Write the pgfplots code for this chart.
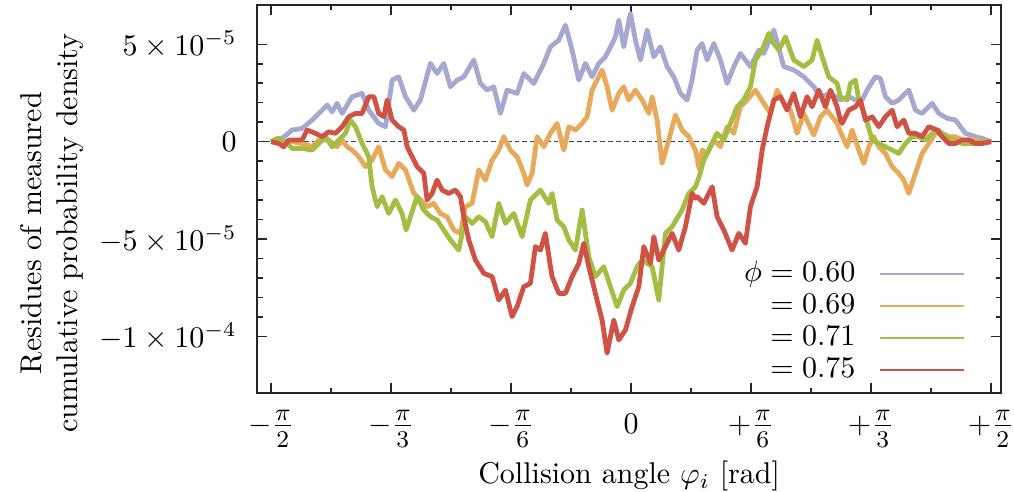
\documentclass[border=0pt]{standalone}
\usepackage{pgfplots}
\pgfplotsset{compat=1.18}
\usetikzlibrary{calc}
\definecolor{cblue}{HTML}{A5A8D0}
\definecolor{corange}{HTML}{E8A95A}
\definecolor{cgreen}{HTML}{A4BD43}
\definecolor{cred}{HTML}{CF5245}
\newcommand{\pifrac}[2]{#1\frac{\mbox{\footnotesize$\pi$}\rule[-1.2pt]{0pt}{1pt}}{\rule{0pt}{6.5pt}\mbox{\footnotesize$#2$}}}
\begin{document}
\begin{tikzpicture}
\begin{axis}[name=ax,
  scale only axis, width=248pt, height=129.3pt,
  xmin=-93.5, xmax=92.5, ymin=-12.89, ymax=7.01,
  xtick={-90,-60,-30,0,30,60,90},
  xticklabels={$\pifrac{-}{2}$,$\pifrac{-}{3}$,$\pifrac{-}{6}$,$0$,$\pifrac{+}{6}$,$\pifrac{+}{3}$,$\pifrac{+}{2}$},
  xticklabel style={text height=8pt, text depth=5pt, yshift=-1.9pt},
  minor xtick={-75,-45,-15,15,45,75},
  ytick={-10,-5,0,5},
  yticklabels={$-1\times10^{-4}$,$-5\times10^{-5}$,$0$,$5\times10^{-5}$},
  minor y tick num=4,
  tick align=inside,
  major tick length=3.3pt, minor tick length=1.8pt,
  axis line style={black!85, line width=0.5pt},
  every tick/.style={black!85, line width=0.5pt},
  yticklabel style={xshift=-3.3pt},
  xlabel={Collision angle $\varphi_i$ [rad]},
  xlabel style={yshift=2.5pt},
  ylabel={Residues of measured\\cumulative probability density},
  ylabel style={align=center, at={(axis description cs:-0.2755,0.412)}, anchor=center},
  legend plot pos=right,
  legend cell align=right,
  legend image code/.code={\draw[#1, line width=0.7pt] (0pt,0pt) -- (28.3pt,0pt);},
  legend style={draw=none, fill=none, inner sep=0pt, column sep=7.7pt, row sep=1.7pt,
    nodes={inner sep=0pt, text height=7pt, text depth=2pt},
    at={(rel axis cs:0.953,0.022)}, anchor=south east},
  every axis plot/.append style={line width=1.6pt, line join=round},
]
\addplot[black!75, densely dotted, line width=0.4pt, forget plot] coordinates {(-93.5,0) (92.5,0)};
% phi = 0.60
\addplot[cblue] coordinates {
(-90,0) (-87.25,0.17) (-84.75,0.60) (-82.25,0.68) (-79.75,1.11) (-77.25,1.62) (-76.0,1.88) (-74.75,1.54) (-73.5,1.97) (-72.25,1.45) (-69.75,2.31) (-67.25,2.48) (-65.6,1.62) (-63.1,0.94) (-61.4,0.77) (-59.75,3.16) (-58.1,3.33) (-56.4,2.31)
(-54.33,1.62) (-52.67,2.14) (-50.17,4.02) (-48.5,3.50) (-46.83,4.02) (-45.17,2.82) (-43.5,3.16) (-41.83,3.33) (-39.33,4.19) (-37.67,2.99) (-36,2.65) (-34.33,2.82) (-32.67,1.45) (-31,2.65) (-28.5,2.48) (-26.83,3.50) (-24.33,2.99) (-21.83,4.02) (-20.17,4.87)
(-18.08,5.21) (-16.42,5.98) (-14.75,4.70) (-13.08,3.16) (-11.42,4.02) (-9.75,3.33) (-8.08,4.02) (-6.42,4.36) (-3.92,5.38) (-3.08,6.24) (-1.83,4.87) (-0.17,6.58) (1.08,5.21) (2.33,4.19) (4.0,5.73) (5.67,4.36) (7.33,4.87) (9.0,3.85) (10.67,3.33) (12.33,2.48) (14.0,2.14) (15.25,3.16) (16.5,4.70)
(17.75,5.04) (19,4.19) (20.67,5.04) (22.33,4.19) (24,2.99) (25.67,3.85) (27.33,4.53) (29.83,3.85) (31.92,4.70) (33.17,4.53) (35.67,5.73) (38.17,3.85) (40.67,3.68) (43.17,3.33) (45.67,2.82) (47.33,2.31) (49.83,2.48) (52.33,2.14)
(54.42,2.31) (56.08,2.14) (57.75,2.14) (59,2.65) (61.08,3.33) (62.33,3.25) (63.58,2.31) (65.25,1.97) (66.92,2.14) (69.42,2.65) (71.08,1.62) (72.75,1.45) (75.25,1.97) (76.92,1.45) (79.0,1.20) (81.08,1.11) (83.58,0.43) (86.08,0.26) (87.75,0.17) (90,0)
};
\addlegendentry{$\phi = 0.60$}
% phi = 0.69
\addplot[corange] coordinates {
(-90,0) (-88.5,0.17) (-87.25,0) (-84.75,0) (-82.25,-0.09) (-79.75,-0.26) (-78.1,0.09) (-75.6,0.09) (-73.5,-0.26) (-72.25,0.09) (-71.0,-0.26) (-69.75,-0.43) (-68.1,-0.77) (-66.4,-1.28) (-64.75,-0.94) (-63.1,-0.26) (-61.4,-1.45) (-59.75,-1.79) (-58.1,-1.11) (-56.4,-1.45)
(-54.33,-2.65) (-52.67,-2.99) (-51,-3.33) (-49.33,-3.16) (-47.67,-3.68) (-46,-3.85) (-44.33,-4.53) (-42.67,-4.70) (-41.42,-3.33) (-39.75,-3.16) (-38.08,-1.45) (-36.42,-1.97) (-34.75,-0.94) (-33.08,-0.43) (-31.83,0.26) (-30.17,-0.43) (-28.5,-0.77) (-26.83,-1.62) (-26,-2.22) (-24.75,-1.62) (-23.5,0.26) (-21.83,-0.26) (-20.17,0.43)
(-18.5,0.94) (-16.83,-0.43) (-15.58,0.77) (-13.92,0.60) (-12.25,0.94) (-11.0,1.28) (-9.75,2.65) (-7.25,3.68) (-6.0,2.82) (-4.75,1.62) (-3.08,2.48) (-1.83,2.82) (-0.58,2.14) (1.08,2.65) (2.75,2.14) (4.42,1.45) (5.25,2.31) (6.5,1.11) (7.75,-1.11) (9.42,0.09) (11.08,1.37) (12.75,0.60) (14.42,0.26) (16.08,-0.43) (17.0,-1.4)
(17.75,-0.43) (19,-0.60) (20.67,0.09) (22.33,-0.26) (24,0.77) (25.67,0.43) (27.33,1.79) (29,2.14) (31.08,2.65) (33.17,1.97) (34.83,1.45) (36.5,2.65) (38.17,1.97) (39.83,1.62) (41.5,0.43) (43.17,1.45) (45.67,0.34) (47.33,1.28) (49,1.62) (51.5,0.94) (52.33,0.5)
(54,-0.26) (55.25,0.60) (56.92,-0.43) (58.17,-1.11) (59.42,-0.26) (60.67,0.26) (61.92,-0.26) (63.58,-0.60) (65.25,-1.28) (66.92,-1.62) (68.17,-1.97) (69.42,-2.65) (71.08,-1.62) (72.75,-0.60) (74.42,-0.09) (76.08,0.43) (77.75,0.43) (79.42,0.26) (81.08,0.26) (82.75,0.09) (84.42,0.09) (86.08,0.09) (87.75,0) (90,0)
};
\addlegendentry{$= 0.69$}
% phi = 0.71
\addplot[cgreen] coordinates {
(-90,0) (-88.1,0.17) (-86.4,0) (-84.75,-0.34) (-82.25,-0.34) (-79.75,-0.43) (-78.1,-0.09) (-76.4,0.26) (-74.75,-0.26) (-73.1,0.09) (-71.4,0.43) (-70.2,1.11) (-68.9,0.77) (-67.25,-0.09) (-65.6,-0.77) (-64.75,-2.31) (-63.5,-3.33) (-62.25,-2.82) (-60.6,-3.68) (-58.9,-2.99) (-57.25,-3.68) (-56.25,-4.53)
(-54.33,-3.33) (-53.5,-2.82) (-51.83,-3.50) (-50.17,-3.85) (-48.5,-4.02) (-46.83,-4.53) (-45.17,-5.04) (-43.08,-5.56) (-41.42,-3.85) (-39.75,-4.19) (-38.08,-3.85) (-36.42,-4.10) (-34.75,-4.87) (-33.08,-3.16) (-31.42,-4.19) (-29.33,-3.68) (-27.25,-4.87) (-25.17,-2.99) (-22.67,-2.48) (-20.58,-3.16)
(-19.75,-2.65) (-18.5,-4.02) (-16.83,-4.36) (-15.58,-5.04) (-13.92,-5.56) (-12.25,-3.50) (-10.58,-5.90) (-8.92,-6.92) (-6.83,-6.41) (-5.17,-7.44) (-3.5,-8.46) (-1.83,-7.61) (-0.17,-7.26) (1.5,-6.41) (2.75,-6.07) (5.25,-6.41) (6.92,-8.12) (8.58,-4.70) (10.25,-4.36) (12.75,-3.50) (14.42,-2.65) (16.08,-2.31)
(17.0,-1.8) (18.17,-0.94) (19.83,-0.26) (21.5,0.43) (23.17,0.09) (24.83,0.94) (26.5,1.79) (28.17,2.14) (29.83,2.82) (31.08,4.19) (32.75,4.70) (34.42,5.56) (35.67,5.04) (36.92,4.70) (38.58,5.38) (40.67,4.19) (43.17,3.85) (45.25,4.19) (46.5,5.21) (47.75,4.36) (49.42,3.33) (51.5,2.99) (52.33,2.3)
(54,2.14) (54.83,2.99) (56.08,3.16) (56.92,2.14) (58.58,1.28) (60.25,0.09) (61.92,-0.09) (63.58,-0.26) (65.25,-0.43) (66.92,-0.60) (68.58,-0.09) (70.25,0.26) (71.92,0.26) (73.58,0.09) (75.25,0.43) (76.92,0.60) (78.58,0.26) (80.25,0.09) (82.75,-0.09) (85.25,-0.09) (87.75,0) (90,0)
};
\addlegendentry{$= 0.71$}
% phi = 0.75
\addplot[cred] coordinates {
(-90,0) (-88.1,-0.09) (-86.85,-0.26) (-85.6,0.09) (-83.9,0.09) (-82.25,0.09) (-81.0,0.60) (-78.9,0.43) (-77.25,0.26) (-75.6,0.51) (-73.9,0.43) (-72.25,0.77) (-70.6,1.28) (-68.9,1.45) (-67.25,1.45) (-65.6,2.31) (-64.3,2.31) (-63.1,1.45) (-61.8,1.28) (-61.0,2.14) (-59.75,1.11) (-58.1,0.77) (-56.8,0.60)
(-56,-0.26) (-54.75,-0.77) (-53.5,-1.28) (-51.83,-1.62) (-51,-2.99) (-49.75,-2.65) (-48.5,-1.97) (-47.25,-2.48) (-45.58,-2.65) (-43.92,-2.48) (-42.67,-2.82) (-41.83,-3.85) (-40.58,-5.04) (-38.92,-6.07) (-36.83,-6.75) (-34.75,-6.92) (-33.08,-8.12) (-31.42,-7.61) (-29.75,-8.97) (-28.5,-8.46) (-26.83,-7.44) (-25.17,-7.26) (-23.92,-5.38) (-22.67,-5.56) (-21.42,-4.70) (-20.17,-6.41)
(-19.75,-6.92) (-18.08,-7.78) (-16.42,-7.78) (-14.75,-6.92) (-13.08,-6.24) (-11.83,-5.21) (-10.58,-6.41) (-8.92,-7.78) (-7.25,-9.15) (-6.0,-10.85) (-4.33,-9.15) (-3.08,-10.17) (-1.42,-9.66) (0.25,-8.46) (1.92,-7.44) (3.17,-5.38) (4.83,-6.24) (5.67,-4.87) (6.92,-6.07) (8.58,-5.38) (10.25,-4.70) (11.92,-5.56) (13.58,-4.36) (15.25,-2.65) (16.08,-2.9)
(16.5,-2.82) (18.17,-3.16) (20.25,-2.31) (21.5,-3.85) (23.17,-4.53) (25.25,-5.56) (26.92,-4.70) (28.58,-5.21) (29.83,-3.33) (31.5,-2.31) (32.75,-0.43) (34,0.77) (35.67,2.14) (37.33,2.31) (39,1.62) (40.67,2.48) (42.33,1.28) (44,2.31) (45.25,1.79) (46.92,2.65) (48.58,1.79) (49.83,2.65) (51.5,1.79) (52.33,1.1)
(52.75,0.94) (54.42,1.62) (56.08,1.79) (57.33,2.14) (58.58,1.11) (60.25,1.28) (61.92,0.77) (63.58,1.28) (65.25,1.62) (66.5,0.77) (68.17,1.11) (69.42,0.43) (71.08,0.43) (72.75,0.26) (74.42,0.77) (76.5,0.60) (77.75,0.26) (79.42,-0.09) (81.08,-0.09) (82.75,0.09) (84.42,0.09) (86.08,-0.09) (87.75,-0.09) (90,0)
};
\addlegendentry{$= 0.75$}
\end{axis}
\pgfresetboundingbox
\path[use as bounding box] ($(ax.south west)+(-85.7pt,-33pt)$) rectangle ($(ax.north east)+(4.3pt,1.7pt)$);
\end{tikzpicture}
\end{document}
